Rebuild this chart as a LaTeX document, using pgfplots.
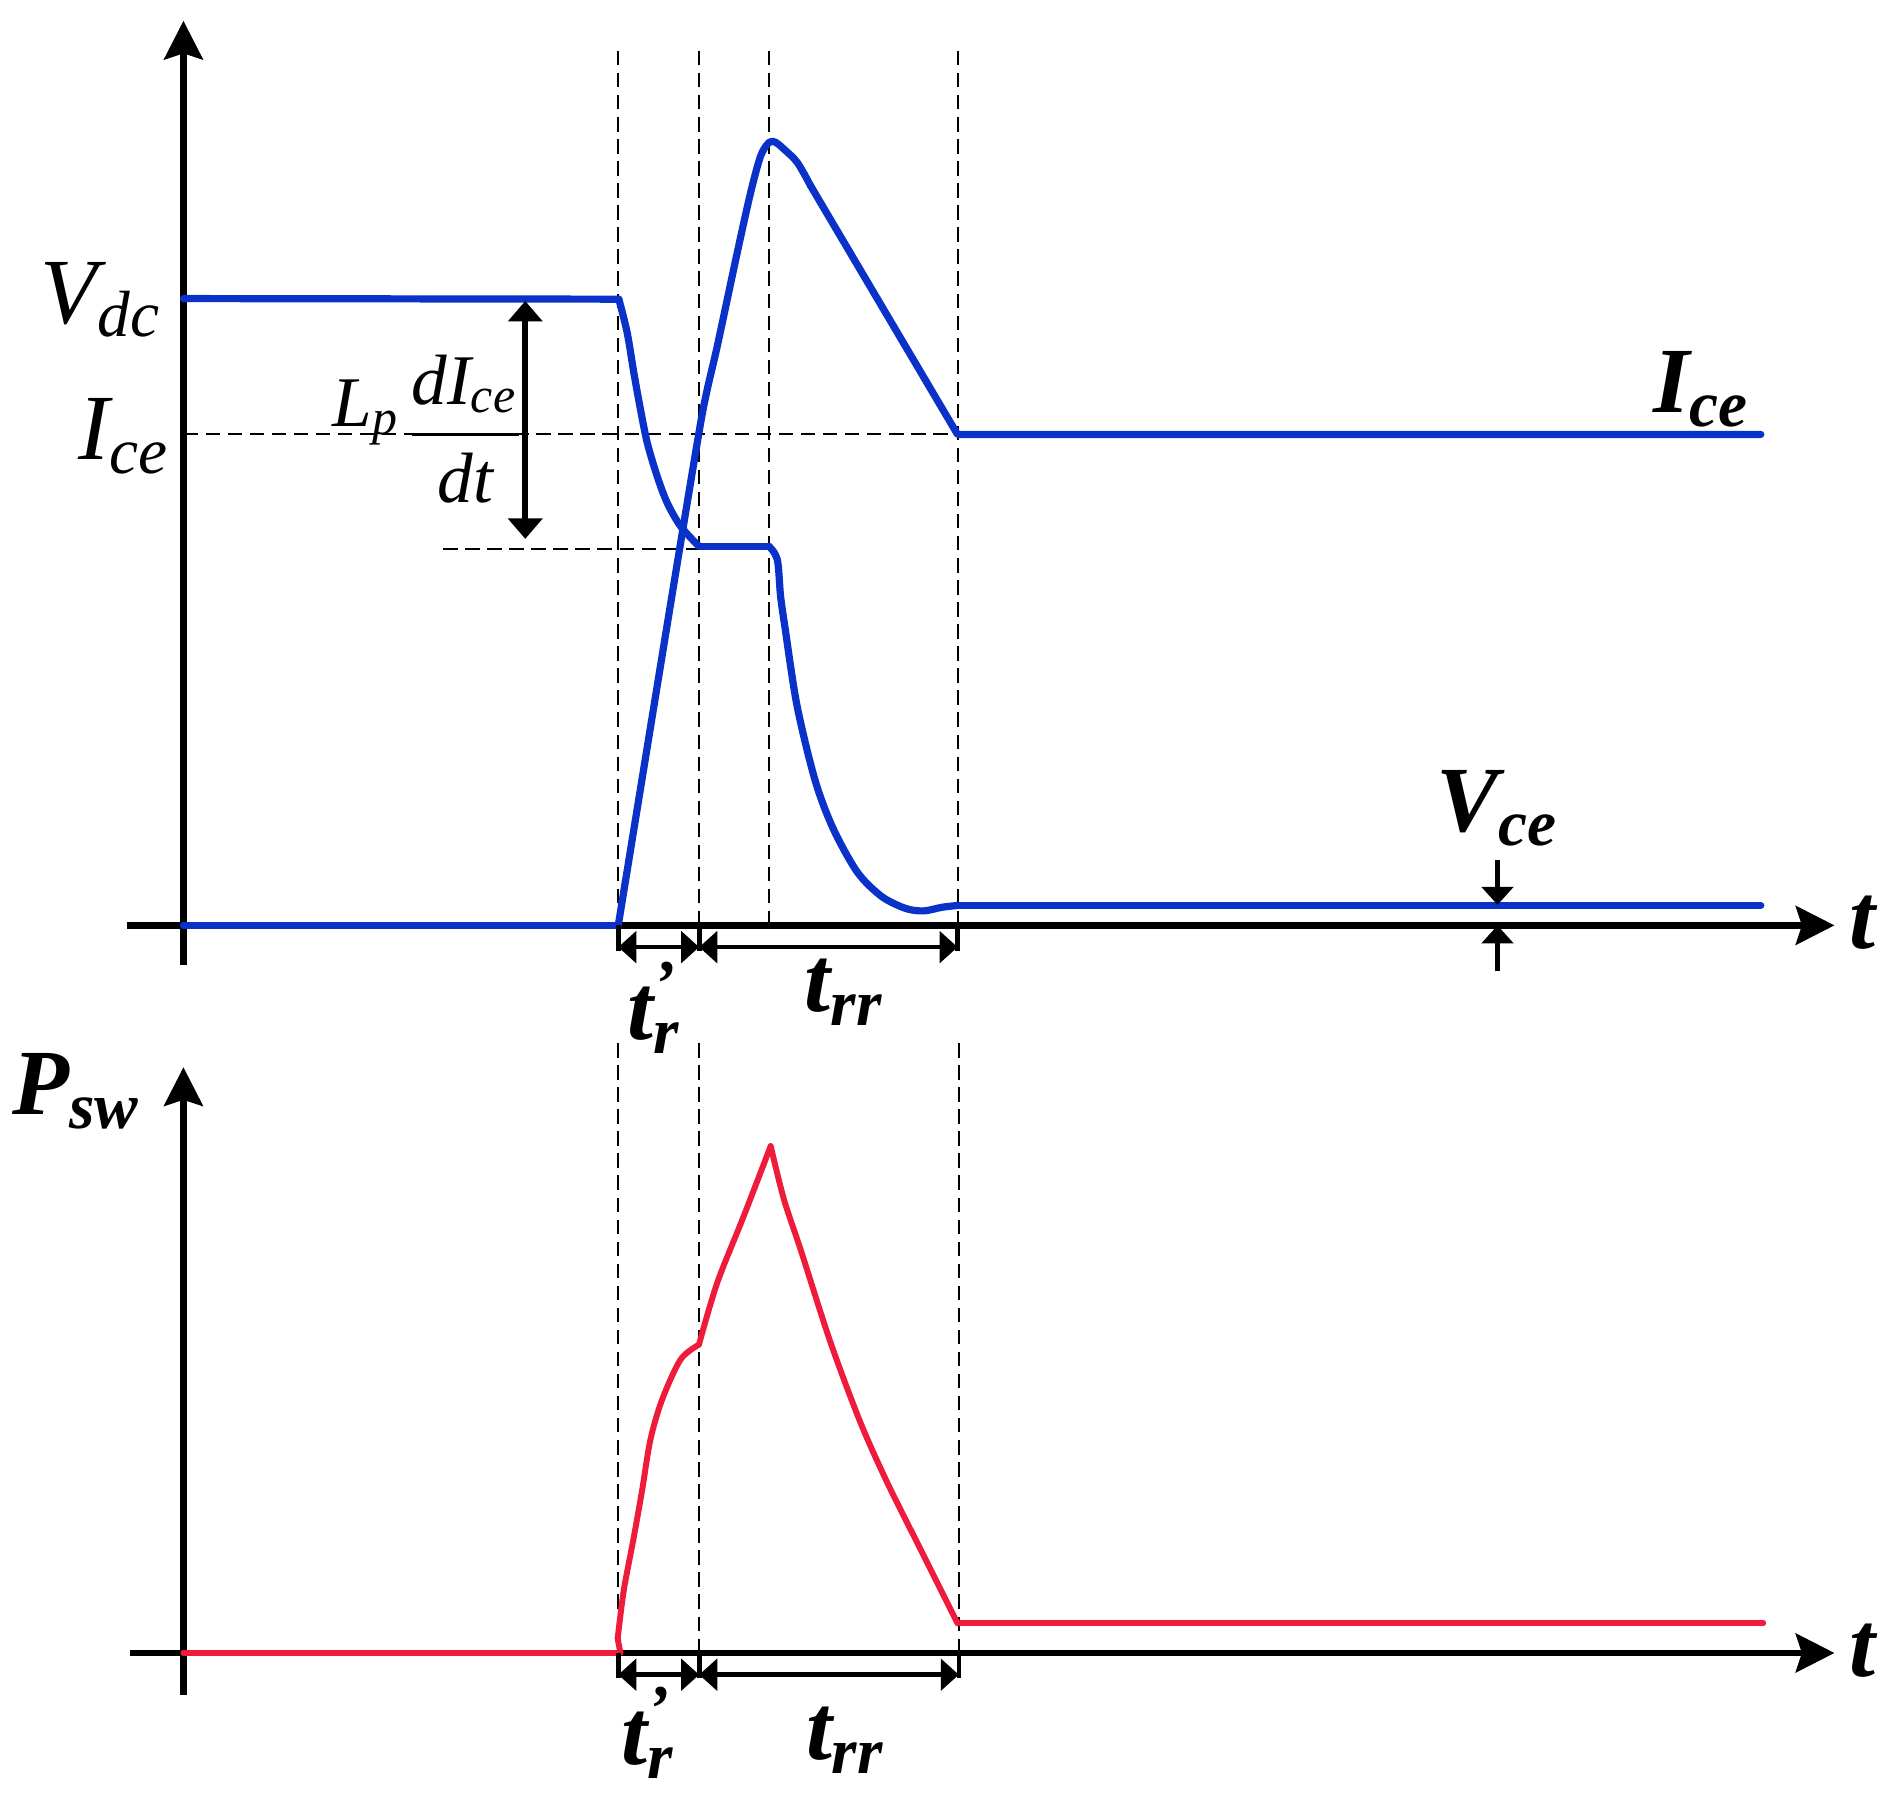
\documentclass[border=0pt]{standalone}
\usepackage{pgfplots}
\pgfplotsset{compat=1.18}
\usepackage{fontspec}
\setmainfont{Liberation Serif}
\usetikzlibrary{arrows.meta}

\definecolor{wblue}{RGB}{10,50,200}
\definecolor{wred}{RGB}{238,28,58}

% both panels share this look: bare axes with arrow heads, no ticks
\pgfplotsset{
  wave/.style={
    anchor=south west, x=0.005cm, y=0.005cm,
    axis lines=middle, xtick=\empty, ytick=\empty, clip=false,
    axis line style={line width=0.8pt,
      -{Stealth[length=0.16cm,width=0.16cm,inset=0.025cm]}},
  },
  bl/.style={wblue, line width=0.85pt, line join=round, line cap=round},
  rd/.style={wred, line width=0.7pt, line join=round, line cap=round},
}
\tikzset{
  guide/.style={black, line width=0.25pt, dash pattern=on 1.7pt off 0.9pt},
  dim/.style={line width=0.55pt,
    {Triangle[length=0.075cm,width=0.13cm]}-{Triangle[length=0.075cm,width=0.13cm]}},
  onearrow/.style={line width=0.6pt, -{Triangle[length=0.075cm,width=0.13cm]}},
  lbl/.style={font=\fontsize{11}{13}\selectfont\bfseries\itshape, inner sep=0pt},
  lbr/.style={font=\fontsize{11}{13}\selectfont\itshape, inner sep=0pt},
}

\begin{document}
\begin{tikzpicture}
\useasboundingbox (0,0) rectangle (7.84cm,7.43cm);

% ---------- top panel: V_ce and I_ce ----------
\begin{axis}[wave, at={(0.525cm,3.43cm)},
  xmin=-47, xmax=1367, ymin=-33, ymax=749]

\draw[guide] (axis cs:360,0) -- (axis cs:360,730);
\draw[guide] (axis cs:427,0) -- (axis cs:427,730);
\draw[guide] (axis cs:485,0) -- (axis cs:485,730);
\draw[guide] (axis cs:641,0) -- (axis cs:641,730);
\draw[guide] (axis cs:0,407) -- (axis cs:641,407);
\draw[guide] (axis cs:215,312) -- (axis cs:427,312);

% voltage
\addplot[bl] coordinates {(0,519) (360.5,518.5)};
\addplot[bl, smooth, tension=0.5] coordinates {
  (360.5,518.5) (367.4,490.7) (372.9,457.6) (378.4,427.2) (384,399.6)
  (392.2,371.9) (400.5,349.9) (411.6,330.5) (426.8,313.9)
};
\addplot[bl] coordinates {(426.8,313.9) (484.8,313.9)};
\addplot[bl, smooth, tension=0.5] coordinates {
  (484.8,313.9) (491.7,302.9) (494.4,272.5) (498,247) (508,182)
  (523,120) (538,80) (558,44) (578,24) (598,14) (613,12) (628,15)
  (641,16.5)
};
\addplot[bl] coordinates {(641,16.5) (1306,16.5)};
% current
\addplot[bl] coordinates {(0,0) (360,0)};
\addplot[bl, smooth, tension=0.5] coordinates {
  (360,0) (403.3,266) (426.8,407.9) (433.7,443.8)
  (442,479.7) (458.5,557) (469.6,606.8) (477.9,637.1) (484.8,648.2)
  (490,648.5) (497.2,642.7) (508.3,631.6) (519.3,612.3)
};
\addplot[bl] coordinates {(519.3,612.3) (640.9,406.5) (1306,406.5)};

% time intervals
\draw[line width=0.55pt] (axis cs:360,0) -- (axis cs:360,-21);
\draw[line width=0.55pt] (axis cs:427,0) -- (axis cs:427,-21);
\draw[line width=0.55pt] (axis cs:641,0) -- (axis cs:641,-21);
\draw[dim] (axis cs:360,-18) -- (axis cs:427,-18);
\draw[dim] (axis cs:427,-18) -- (axis cs:641,-18);
\node[lbl] at (axis cs:391,-68) {t\rlap{\textsuperscript{’}}\textsubscript{r}};
\node[lbl] at (axis cs:548,-55) {t\textsubscript{rr}};

% L_p dI/dt drop
\draw[line width=0.75pt,
  {Triangle[length=0.085cm,width=0.14cm]}-{Triangle[length=0.085cm,width=0.14cm]}]
  (axis cs:283,517) -- (axis cs:283,320);
\node[font=\fontsize{8.4}{10}\selectfont\itshape, inner sep=0pt]
  at (axis cs:205,411)
  {\raisebox{3pt}{L\textsubscript{p}}$\displaystyle\frac{\mbox{\itshape dI\textsubscript{ce}}}{\mbox{\itshape dt}}$};

% on-state voltage
\draw[onearrow] (axis cs:1088,54) -- (axis cs:1088,17);
\draw[onearrow] (axis cs:1088,-38) -- (axis cs:1088,0);
\node[lbl] at (axis cs:1089,97) {V\textsubscript{ce}};

\node[lbr, anchor=east] at (axis cs:-15,518) {V\textsubscript{dc}};
\node[lbr, anchor=east] at (axis cs:-8,405) {I\textsubscript{ce}};
\node[lbl] at (axis cs:1258,444) {I\textsubscript{ce}};
\node[lbl, anchor=west] at (axis cs:1378,2) {t};
\end{axis}

% ---------- bottom panel: switching power ----------
\begin{axis}[wave, at={(0.54cm,0.405cm)},
  xmin=-44, xmax=1367, ymin=-35, ymax=485]

\draw[guide] (axis cs:360,0) -- (axis cs:360,505);
\draw[guide] (axis cs:427,0) -- (axis cs:427,505);
\draw[guide] (axis cs:642,0) -- (axis cs:642,505);

\addplot[rd] coordinates {(0,0) (361.8,0) (359.5,12)};
\addplot[rd, smooth, tension=0.5] coordinates {
  (359.5,12) (364.6,52) (372.9,96) (379.8,135) (386.7,177)
  (396.4,210) (411.6,243) (426.8,255.3)
};
\addplot[rd, smooth, tension=0.5] coordinates {
  (426.8,255.3) (441.9,306.4) (464,362) (486.2,419.7)
};
\addplot[rd, smooth, tension=0.5] coordinates {
  (486.2,419.7) (497.2,375.5) (511,334) (535.9,256.7) (560.7,190.4)
  (582.9,140.7) (610.5,85.4) (640.9,24.6)
};
\addplot[rd] coordinates {(640.9,24.6) (1308,24.6)};

\draw[line width=0.55pt] (axis cs:360,0) -- (axis cs:360,-21);
\draw[line width=0.55pt] (axis cs:427,0) -- (axis cs:427,-21);
\draw[line width=0.55pt] (axis cs:642,0) -- (axis cs:642,-21);
\draw[dim] (axis cs:360,-18) -- (axis cs:427,-18);
\draw[dim] (axis cs:427,-18) -- (axis cs:642,-18);
\node[lbl] at (axis cs:386,-66) {t\rlap{\textsuperscript{’}}\textsubscript{r}};
\node[lbl] at (axis cs:549,-72) {t\textsubscript{rr}};

\node[lbl] at (axis cs:-88,465) {P\textsubscript{sw}};
\node[lbl, anchor=west] at (axis cs:1378,2) {t};
\end{axis}
\end{tikzpicture}
\end{document}
